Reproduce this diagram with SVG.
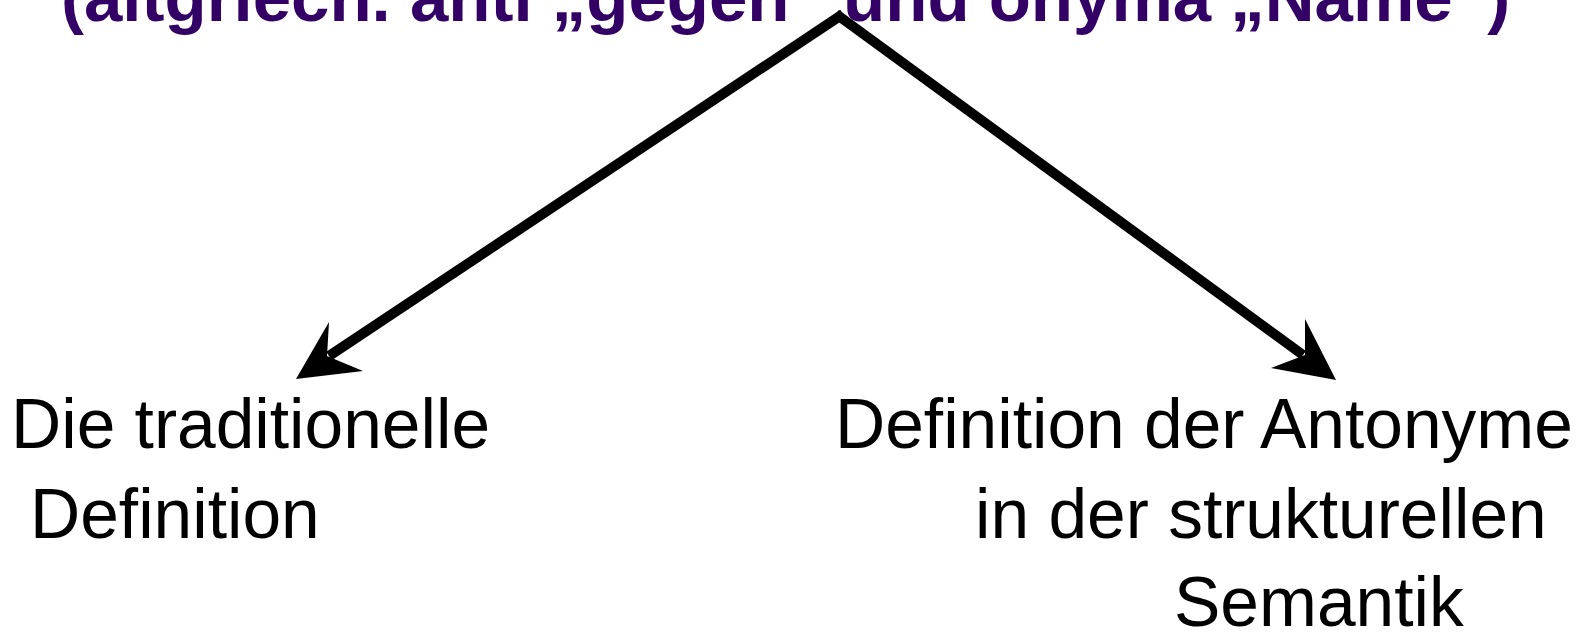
<svg xmlns="http://www.w3.org/2000/svg" width="1581" height="636" viewBox="0 0 1581 636">
<style>
.t{font-family:"Liberation Sans",Arial,sans-serif;font-size:69.5px;fill:#000}
.title{font-family:"Liberation Sans",Arial,sans-serif;font-size:69px;font-weight:bold;fill:#330066}
.ln{stroke:#000;stroke-width:10;fill:none;stroke-linecap:butt}
</style>
<rect width="1581" height="636" fill="#fff"/>
<g id="title"><text class="title" x="61" y="21">(altgriech. anti „gegen“ und onyma „Name“)</text></g>
<g id="connectors">
<line class="ln" x1="843" y1="14" x2="329" y2="356"/>
<line class="ln" x1="836" y1="14" x2="1303" y2="355"/>
<path d="M296,379 L329,322 L327,356 L363,371 Z" fill="#000"/>
<path d="M1336,380 L1305,319 L1305,355 L1271,368 Z" fill="#000"/>
</g>
<g id="left"><text class="t" x="11" y="448">Die traditionelle</text><text class="t" x="30" y="538">Definition</text></g>
<g id="right"><text class="t" x="835" y="448">Definition der Antonyme</text><text class="t" x="975" y="538">in der strukturellen</text><text class="t" x="1174" y="626">Semantik</text></g>
</svg>
